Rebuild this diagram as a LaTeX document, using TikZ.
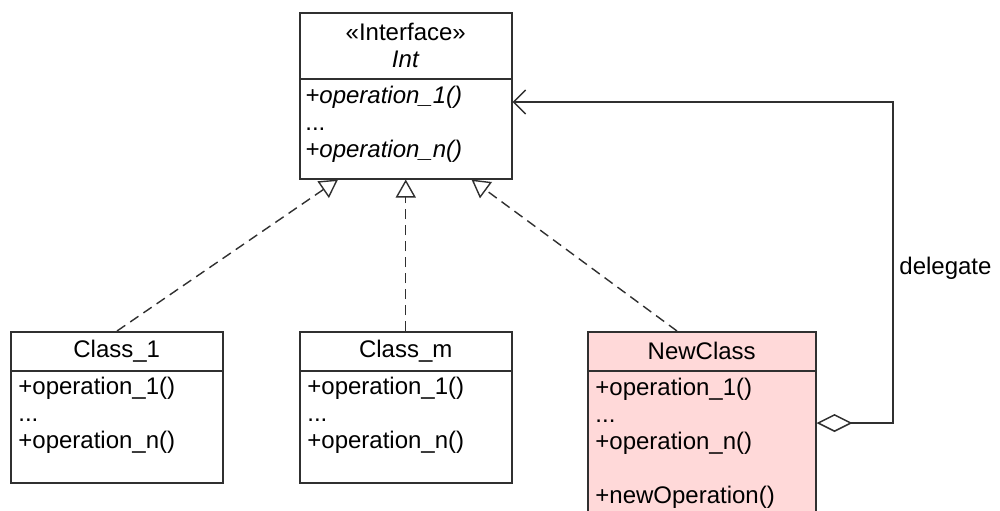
\documentclass[tikz,border=0pt]{standalone}
\usepackage{fontspec}
\setmainfont{Liberation Sans}
\usetikzlibrary{arrows.meta,calc}

\definecolor{umlline}{HTML}{303030}
\definecolor{umlpink}{HTML}{FFD9D9}

\tikzset{
  umlbox/.style={draw=umlline, line width=0.75pt, anchor=north west, inner sep=0pt, fill=white},
  pinkbox/.style={umlbox, fill=umlpink},
  umltext/.style={font=\fontsize{12}{13.5}\selectfont, text=black, inner sep=0pt, align=left},
  realize/.style={draw=umlline, line width=0.7pt, dash pattern=on 5pt off 3pt,
    -{Triangle[open, length=9pt, width=10pt, line width=0.7pt]}},
  delegation/.style={draw=umlline, line width=0.75pt,
    {Diamond[open, length=18pt, width=9pt, line width=0.75pt]}-{Straight Barb[length=6pt, width=12pt, line width=0.75pt]}}
}

\begin{document}
\begin{tikzpicture}[x=0.5pt, y=-0.5pt]
\clip (0,0) rectangle (1000,510);
\fill[white] (0,0) rectangle (1000,510);

% Interface Int
\node[umlbox, minimum width=106pt, minimum height=33pt] (ihead) at (299,12) {};
\node[umlbox, minimum width=106pt, minimum height=50pt] (ibody) at (299,78) {};
\node[umltext, align=center] (ititle) at (ihead.center) {«Interface»\\\textit{Int}};
\node[umltext, anchor=north west] (iops) at (305,86)
  {\textit{+operation\_1()}\\...\\\textit{+operation\_n()}};

% Class_1
\node[umlbox, minimum width=106pt, minimum height=19.5pt] (c1head) at (10,331) {};
\node[umlbox, minimum width=106pt, minimum height=56pt] (c1body) at (10,370) {};
\node[umltext] (c1name) at (c1head.center) {Class\_1};
\node[umltext, anchor=north west] (c1ops) at (18,377)
  {+operation\_1()\\...\\+operation\_n()};

% Class_m
\node[umlbox, minimum width=106pt, minimum height=19.5pt] (cmhead) at (299,331) {};
\node[umlbox, minimum width=106pt, minimum height=56pt] (cmbody) at (299,370) {};
\node[umltext] (cmname) at (cmhead.center) {Class\_m};
\node[umltext, anchor=north west] (cmops) at (307,377)
  {+operation\_1()\\...\\+operation\_n()};

% NewClass
\node[pinkbox, minimum width=114pt, minimum height=19.5pt] (nhead) at (587,331) {};
\node[pinkbox, minimum width=114pt, minimum height=80pt] (nbody) at (587,370) {};
\node[umltext] (nname) at (nhead.center) {NewClass};
\node[umltext, anchor=north west] (nops) at (595,378)
  {+operation\_1()\\...\\+operation\_n()\\[13.5pt]+newOperation()};

% Realizations of the interface
\draw[realize] ($(c1head.north west)+(107,0)$) -- ($(ibody.south west)+(39,0)$);
\draw[realize] (cmhead.north) -- (ibody.south);
\draw[realize] ($(nhead.north west)+(90,0)$) -- ($(ibody.south east)+(-41,0)$);

% Delegation from NewClass back to the interface
\coordinate (dcorner1) at (893,423);
\coordinate (dcorner2) at (893,102);
\draw[delegation] (nbody.east |- dcorner1) -- (dcorner1) -- (dcorner2) -- (ibody.east |- dcorner2);
\node[umltext, anchor=west] (dlabel) at (899,268) {delegate};
\end{tikzpicture}
\end{document}
